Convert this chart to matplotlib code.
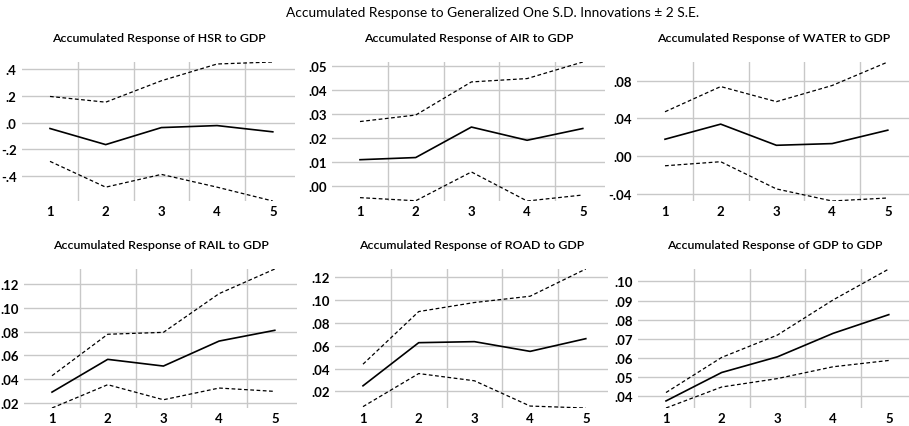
import matplotlib.pyplot as plt
import numpy as np
from matplotlib.ticker import FuncFormatter

plt.rcParams['font.family'] = ['Lato', 'DejaVu Sans']

periods = [1, 2, 3, 4, 5]
titles = ["HSR", "AIR", "WATER", "RAIL", "ROAD", "GDP"]

# accumulated responses (middle) and +/- 2 S.E. bands
hsr_mid = [-0.045, -0.166, -0.038, -0.023, -0.070]
hsr_up = [0.196, 0.153, 0.314, 0.440, 0.455]
hsr_lo = [-0.292, -0.486, -0.390, -0.486, -0.590]

air_mid = [0.0108, 0.0117, 0.0244, 0.0189, 0.0238]
air_up = [0.0267, 0.0294, 0.0432, 0.0446, 0.0515]
air_lo = [-0.0050, -0.0063, 0.0057, -0.0064, -0.0039]

water_mid = [0.0178, 0.0338, 0.0114, 0.0132, 0.0274]
water_up = [0.0469, 0.0736, 0.0576, 0.0747, 0.0996]
water_lo = [-0.0103, -0.0060, -0.0348, -0.0476, -0.0444]

rail_mid = [0.0293, 0.0567, 0.0511, 0.0720, 0.0810]
rail_up = [0.0430, 0.0777, 0.0793, 0.1117, 0.1323]
rail_lo = [0.0160, 0.0355, 0.0229, 0.0327, 0.0299]

road_mid = [0.0249, 0.0626, 0.0635, 0.0550, 0.0661]
road_up = [0.0438, 0.0898, 0.0977, 0.1032, 0.1270]
road_lo = [0.0067, 0.0356, 0.0293, 0.0072, 0.0055]

gdp_mid = [0.0374, 0.0523, 0.0605, 0.0728, 0.0826]
gdp_up = [0.0418, 0.0602, 0.0719, 0.0903, 0.1065]
gdp_lo = [0.0337, 0.0447, 0.0491, 0.0553, 0.0586]

series = [(hsr_mid, hsr_up, hsr_lo), (air_mid, air_up, air_lo),
          (water_mid, water_up, water_lo), (rail_mid, rail_up, rail_lo),
          (road_mid, road_up, road_lo), (gdp_mid, gdp_up, gdp_lo)]

yticks = [[-0.4, -0.2, 0.0, 0.2, 0.4],
          [0.0, 0.01, 0.02, 0.03, 0.04, 0.05],
          [-0.04, 0.0, 0.04, 0.08],
          [0.02, 0.04, 0.06, 0.08, 0.10, 0.12],
          [0.02, 0.04, 0.06, 0.08, 0.10, 0.12],
          [0.04, 0.05, 0.06, 0.07, 0.08, 0.09, 0.10]]
decimals = [1, 2, 2, 2, 2, 2]

W, H = 909, 427
fig = plt.figure(figsize=(W / 100, H / 100), dpi=100)

# pixel position of x=1 for each panel, px per period
x1_px = [50, 360, 665, 52, 363, 666]
unit = 55.7
rows_px = [(63, 202), (270, 409)]

def fmt(d):
    def f(v, pos):
        s = f"{v:.{d}f}"
        return s.replace("0.", ".", 1)
    return FuncFormatter(f)

for i, (mid, up, lo) in enumerate(series):
    top, bot = rows_px[i // 3]
    left = x1_px[i] - 0.5 * unit
    ax = fig.add_axes([left / W, 1 - bot / H, 4.9 * unit / W, (bot - top) / H])
    ax.plot(periods, up, color="black", lw=0.9, ls=(0, (3, 2)))
    ax.plot(periods, lo, color="black", lw=0.9, ls=(0, (3, 2)))
    ax.plot(periods, mid, color="black", lw=1.2)
    ax.set_xlim(0.5, 5.4)
    ax.set_ylim(min(lo), max(up))
    ax.set_xticks(periods)
    ax.set_xticks([1.5, 2.5, 3.5, 4.5], minor=True)
    ax.set_yticks(yticks[i])
    ax.yaxis.set_major_formatter(fmt(decimals[i]))
    ax.grid(True, axis="y", which="major", color="#c8c8c8", lw=1.0)
    ax.grid(True, axis="x", which="minor", color="#c8c8c8", lw=1.0)
    ax.set_axisbelow(True)
    for s in ax.spines.values():
        s.set_visible(False)
    ax.tick_params(which="both", length=0)
    ax.tick_params(axis="y", pad=4, labelsize=9.5)
    ax.tick_params(axis="x", pad=3, labelsize=9.5)
    for lab in ax.get_xticklabels() + ax.get_yticklabels():
        lab.set_fontweight("bold")
    ax.set_title(f"Accumulated Response of {titles[i]} to GDP",
                 fontsize=8.9, fontweight="semibold", pad=15)

fig.text(493 / W, 1 - 13 / H, "Accumulated Response to Generalized One S.D. Innovations \u00b1 2 S.E.",
         ha="center", va="center", fontsize=9.9)

fig.savefig("out.png", dpi=100)
